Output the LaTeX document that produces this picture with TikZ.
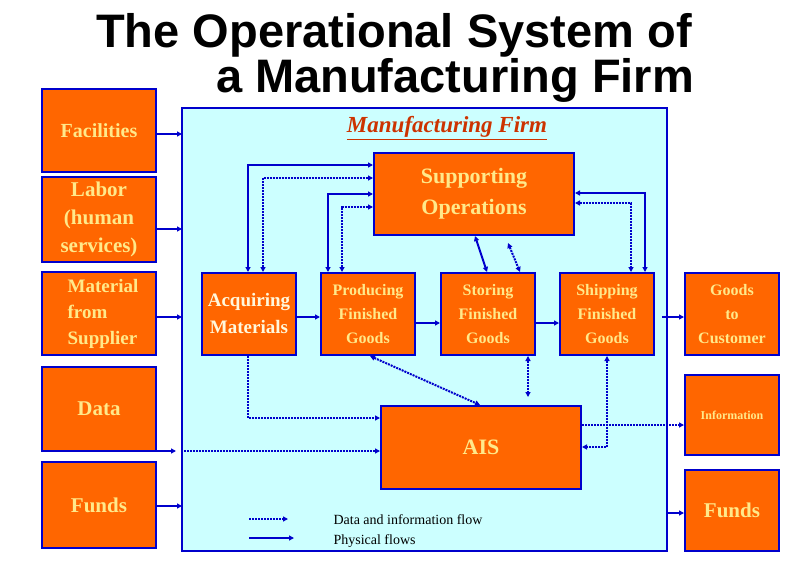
\documentclass[tikz,border=0pt]{standalone}
\usepackage{fontspec}
\setmainfont{Liberation Serif}
\newfontfamily\titlefont{Liberation Sans}
\usetikzlibrary{arrows.meta,calc}
\definecolor{boxor}{HTML}{FF6600}
\definecolor{boxbl}{HTML}{0000CC}
\definecolor{bgcy}{HTML}{CCFFFF}
\definecolor{txty}{HTML}{FFE98A}
\definecolor{firmred}{HTML}{CC3300}
\tikzset{
  obox/.style={draw=boxbl,line width=2pt,fill=boxor,text=txty,align=center,inner sep=0pt},
  phys/.style={draw=boxbl,line width=2pt,-{Triangle[length=5pt,width=5pt]}},
  physb/.style={phys,{Triangle[length=5pt,width=5pt]}-{Triangle[length=5pt,width=5pt]}},
  info/.style={draw=boxbl,line width=2pt,dash pattern=on 2pt off 1pt,-{Triangle[length=5pt,width=5pt]}},
  infob/.style={info,{Triangle[length=5pt,width=5pt]}-{Triangle[length=5pt,width=5pt]}},
}
\newcommand{\bx}[7][]{% opts, name, x1,y1,x2,y2, font, text in #7? 
  \node[obox,#1,minimum width={(#4-#2)*1pt},minimum height={(#5-#3)*1pt}] (#2x) at ({(#2+#4)/2},{(#3+#5)/2}) {#6};}
\newcommand{\fs}[2]{\bfseries\fontsize{#1}{#2}\selectfont}
\begin{document}
\begin{tikzpicture}[x=1pt,y=-1pt]
\useasboundingbox (0,0) rectangle (797,569);
\node[font=\titlefont\bfseries\fontsize{47}{47}\selectfont] (t1) at (394,35) {The Operational System of};
\node[font=\titlefont\bfseries\fontsize{47}{47}\selectfont] (t2) at (455,80) {a Manufacturing Firm};
\draw[draw=boxbl,line width=2pt,fill=bgcy] (182,108) rectangle (667,551);
\node[font=\bfseries\itshape\fontsize{23}{23}\selectfont,text=firmred] (mf) at (447,128) {\underline{Manufacturing Firm}};
% left boxes
\node[obox,font=\fs{20}{22},minimum width=114pt,minimum height=83pt] (fac) at (99,130.5) {Facilities};
\node[obox,font=\fs{21}{28},minimum width=114pt,minimum height=85pt] (lab) at (99,219.5) {Labor\\(human\\services)};
\node[obox,font=\fs{19}{26},align=left,minimum width=114pt,minimum height=83pt] (mat) at (99,313.5) {\hspace*{8pt}Material\\\hspace*{8pt}from\\\hspace*{8pt}Supplier};
\node[obox,font=\fs{21}{22},minimum width=114pt,minimum height=84pt] (dat) at (99,409) {Data};
\node[obox,font=\fs{21}{22},minimum width=114pt,minimum height=86pt] (fl) at (99,505) {Funds};
% right boxes
\node[obox,font=\fs{16}{24},minimum width=94pt,minimum height=82pt] (gc) at (732,314) {Goods\\to\\Customer};
\node[obox,font=\fs{12}{14},minimum width=94pt,minimum height=80pt] (inf) at (732,415) {Information};
\node[obox,font=\fs{21}{22},minimum width=94pt,minimum height=81pt] (fr) at (732,510.5) {Funds};
% inner boxes
\node[obox,font=\fs{22}{31},minimum width=200pt,minimum height=82pt] (sup) at (474,194) {Supporting\\Operations};
\node[obox,font=\fs{19}{27},text=white!70!txty,minimum width=94pt,minimum height=82pt] (acq) at (249,314) {Acquiring\\Materials};
\node[obox,font=\fs{16}{24},minimum width=94pt,minimum height=82pt] (pro) at (368,314) {Producing\\Finished\\Goods};
\node[obox,font=\fs{16}{24},minimum width=94pt,minimum height=82pt] (sto) at (488,314) {Storing\\Finished\\Goods};
\node[obox,font=\fs{16}{24},minimum width=94pt,minimum height=82pt] (shi) at (607,314) {Shipping\\Finished\\Goods};
\node[obox,font=\fs{22}{22},minimum width=200pt,minimum height=83pt] (ais) at (481,447.5) {AIS};
% left inputs
\draw[phys] (fac.east|-0,134) -- (182,134);
\draw[phys] (lab.east|-0,229) -- (182,229);
\draw[phys] (mat.east|-0,317) -- (182,317);
\draw[phys] (dat.east|-0,451) -- (176,451);
\draw[info] (184,451) -- (ais.west|-0,451);
\draw[phys] (fl.east|-0,506) -- (182,506);
% right outputs
\draw[phys] (662,317) -- (gc.west|-0,317);
\draw[info] (ais.east|-0,425) -- (inf.west|-0,425);
\draw[phys] (667,513) -- (fr.west|-0,513);
% chain
\draw[phys] (acq.east|-0,317) -- (pro.west|-0,317);
\draw[phys] (pro.east|-0,323) -- (sto.west|-0,323);
\draw[phys] (sto.east|-0,323) -- (shi.west|-0,323);
% to supporting
\draw[physb] (acq.north-|248,0) |- (sup.west|-0,165);
\draw[infob] (acq.north-|263,0) |- (sup.west|-0,178);
\draw[physb] (pro.north-|328,0) |- (sup.west|-0,194);
\draw[infob] (pro.north-|342,0) |- (sup.west|-0,207);
\draw[physb] (sup.south-|475,0) -- (sto.north-|487,0);
\draw[infob] (508,243) -- (sto.north-|520,0);
\draw[physb] (sup.east|-0,193) -| (shi.north-|645,0);
\draw[infob] (sup.east|-0,203) -| (shi.north-|631,0);
% to AIS
\draw[info] (acq.south-|248,0) |- (ais.west|-0,418);
\draw[infob] (pro.south-|370,0) -- (ais.north-|480,0);
\draw[infob] (sto.south-|528,0) -- (528,397);
\draw[infob] (shi.south-|607,0) |- (ais.east|-0,447);
% legend
\coordinate (l1a) at (249,519); \coordinate (l1b) at (288,519);
\coordinate (l2a) at (249,538); \coordinate (l2b) at (294,538);
\draw[info] (l1a) -- (l1b);
\draw[phys] (l2a) -- (l2b);
\node[anchor=west,font=\fontsize{14}{14}\selectfont] (lt1) at (330,520) {Data and information flow};
\node[anchor=west,font=\fontsize{14}{14}\selectfont] (lt2) at (330,541) {Physical flows};
\end{tikzpicture}
\end{document}
